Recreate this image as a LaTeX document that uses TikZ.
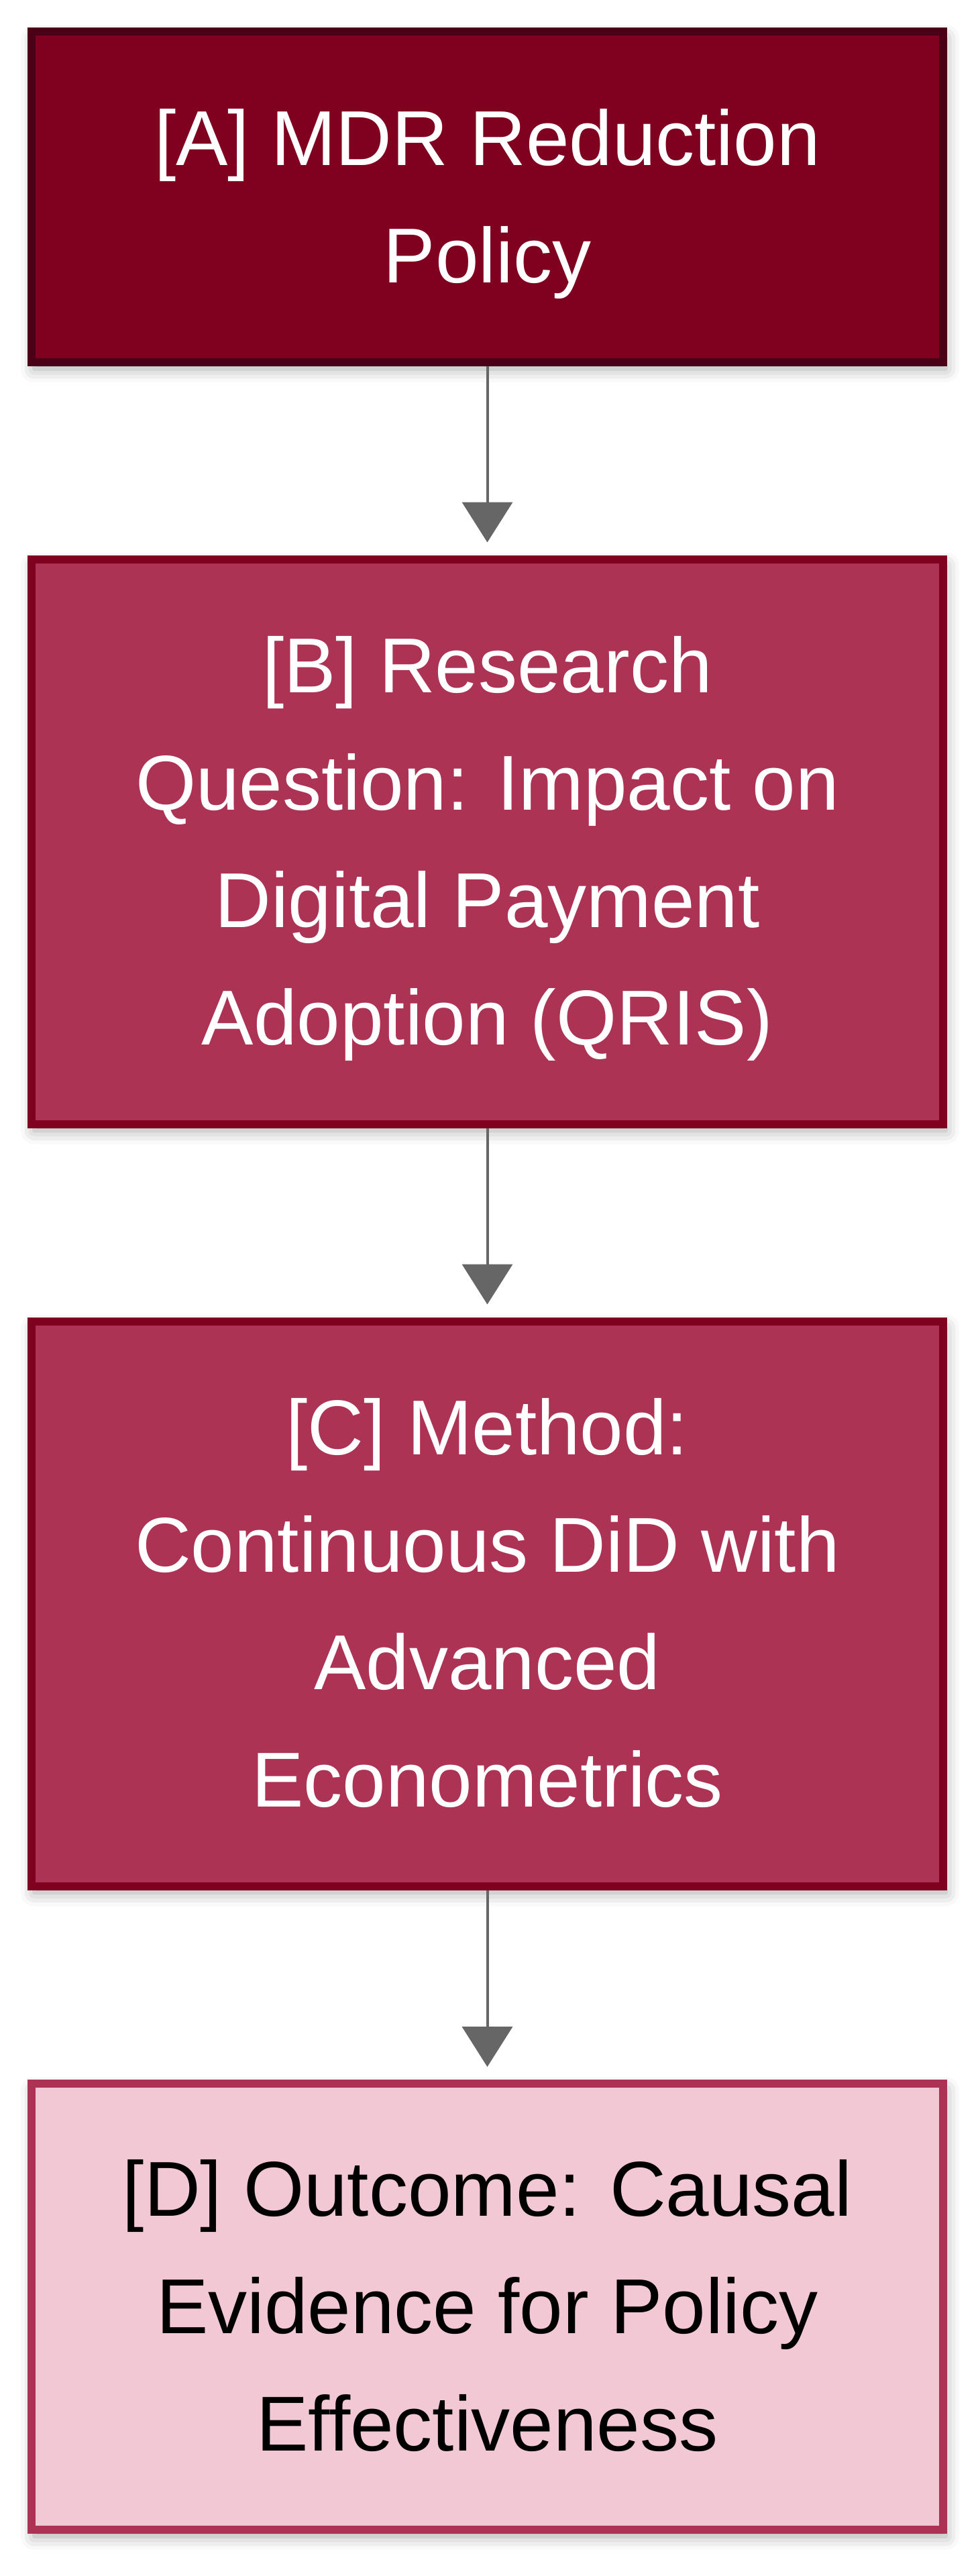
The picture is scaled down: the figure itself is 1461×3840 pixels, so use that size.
\documentclass[tikz,border=0pt]{standalone}
\usepackage{fontspec}
\setmainfont{Liberation Sans}[Ligatures=CommonOff]
\usetikzlibrary{arrows.meta,shadows.blur}
\definecolor{policyred}{HTML}{800020}
\definecolor{policyedge}{HTML}{4A0016}
\definecolor{stagered}{HTML}{AD3355}
\definecolor{outcomepink}{HTML}{F2C8D4}
\definecolor{flowgrey}{HTML}{666666}
\newcommand{\linestrut}{\rule[-23.65pt]{0pt}{87.5pt}}
\tikzset{
  box/.style={draw, line width=6pt, minimum width=679.5pt, inner sep=0pt, align=center,
    font=\fontsize{58}{87.5}\selectfont,
    blur shadow={shadow xshift=2pt, shadow yshift=-5pt, shadow blur radius=10pt, shadow opacity=35},
    execute at end node=\linestrut},
  policy/.style={box, fill=policyred, draw=policyedge, text=white},
  stage/.style={box, fill=stagered, draw=policyred, text=white},
  outcome/.style={box, fill=outcomepink, draw=stagered, text=black},
  flow/.style={-{Triangle[length=30pt,width=37.5pt]}, draw=flowgrey, line width=2pt, shorten >=9.5pt}
}
\begin{document}
\begin{tikzpicture}[x=0.5pt,y=-0.5pt]
\useasboundingbox (0,0) rectangle (1461,3840);
\node[policy, minimum height=246.5pt] (policy) at (726.5,293.5) {\linestrut[A] MDR Reduction\\Policy};
\node[stage, minimum height=421pt] (question) at (726.5,1254.5) {\linestrut[B] Research\\Question: Impact on\\Digital Payment\\Adoption (QRIS)};
\node[stage, minimum height=421pt] (method) at (726.5,2390.5) {\linestrut[C] Method:\\Continuous DiD with\\Advanced\\Econometrics};
\node[outcome, minimum height=332.5pt] (outcome) at (726.5,3438.5) {\linestrut[D] Outcome: Causal\\Evidence for Policy\\Effectiveness};
\draw[flow] (policy) -- (question);
\draw[flow] (question) -- (method);
\draw[flow] (method) -- (outcome);
\end{tikzpicture}
\end{document}
